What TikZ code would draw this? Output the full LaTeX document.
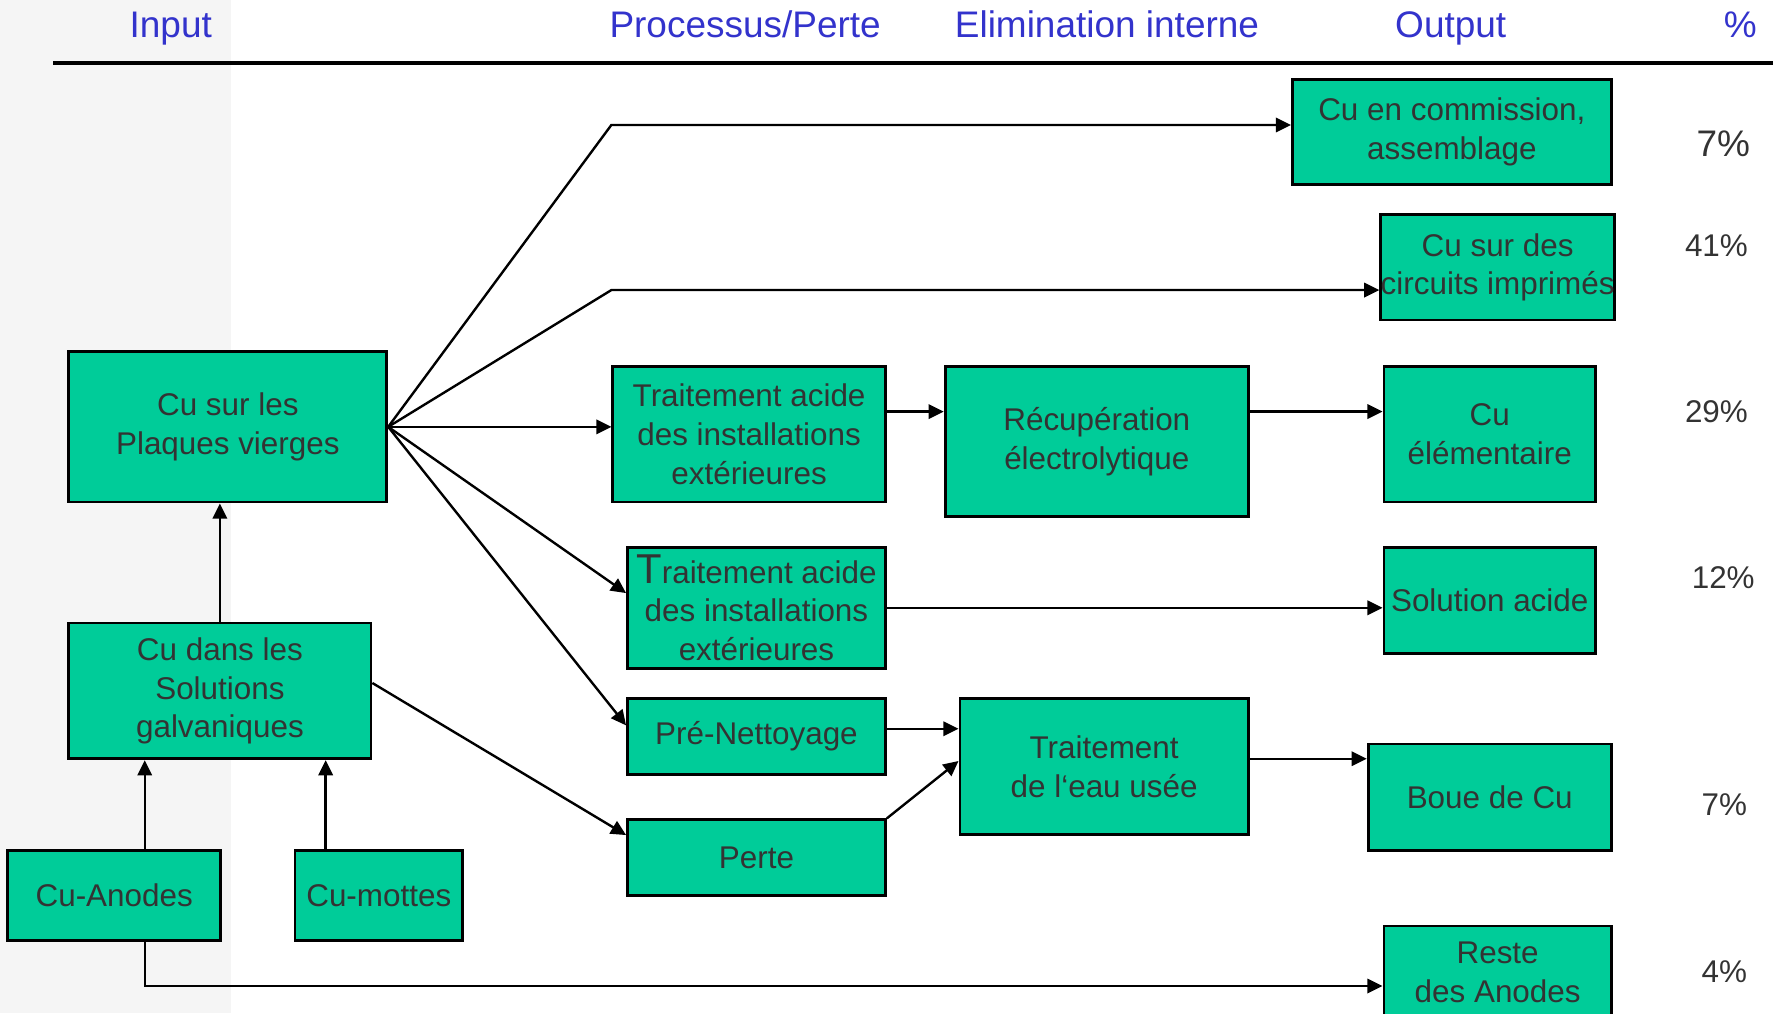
\documentclass[tikz,border=0pt]{standalone}
\usepackage{fontspec}
\setmainfont{Liberation Sans}
\usetikzlibrary{calc}
\usetikzlibrary{arrows.meta}

\definecolor{boxgreen}{HTML}{00CC99}
\definecolor{boxtext}{HTML}{333333}
\definecolor{headblue}{HTML}{3333CC}
\definecolor{leftgray}{HTML}{F5F5F5}

\tikzset{
  flowbox/.style={draw=black, line width=0.7pt, fill=boxgreen, text=boxtext,
    align=center, inner sep=0pt, font=\fontsize{7.9}{9.7}\selectfont},
  flowarrow/.style={-{Triangle[length=3.8pt,width=3.6pt]}, line width=0.6pt},
  colhead/.style={text=headblue, anchor=base, font=\fontsize{9.3}{11}\selectfont},
  share/.style={text=boxtext, font=\fontsize{7.9}{9.7}\selectfont}
}

\begin{document}
\begin{tikzpicture}[x=0.01cm, y=-0.01cm]
            \useasboundingbox (0,0) rectangle (1568,896);
            % Input column background
            \fill[leftgray] (0,0) rectangle (204,896);

            % Column heads
            \node[colhead] (hinput) at (151,33) {Input};
            \node[colhead] (hproc) at (659,33) {Processus/Perte};
            \node[colhead] (helim) at (979,33) {Elimination interne};
            \node[colhead] (hout) at (1283,33) {Output};
            \node[colhead] (hpct) at (1539,33) {\%};
            \draw[line width=1pt] (47,56) -- (1568,56);

            % Input
            \node[flowbox, minimum width=2.81cm, minimum height=1.33cm] (plaques) at (201.5,377.5) {Cu sur les\\Plaques vierges};
            \node[flowbox, minimum width=2.67cm, minimum height=1.20cm] (galv) at (194.5,611) {Cu dans les\\Solutions\\galvaniques};
            \node[flowbox, minimum width=1.88cm, minimum height=0.80cm] (anodes) at (101,792) {Cu-Anodes};
            \node[flowbox, minimum width=1.48cm, minimum height=0.80cm] (mottes) at (335,792) {Cu-mottes};

            % Processus/Perte
            \node[flowbox, minimum width=2.41cm, minimum height=1.20cm] (t1) at (662.5,384) {Traitement acide\\des installations\\extérieures};
            \node[flowbox, minimum width=2.28cm, minimum height=1.07cm] (t2) at (669,537.5) {{\fontsize{10.5}{9.7}\selectfont T}raitement acide\\des installations\\extérieures};
            \node[flowbox, minimum width=2.28cm, minimum height=0.67cm] (pn) at (669,651.5) {Pré-Nettoyage};
            \node[flowbox, minimum width=2.28cm, minimum height=0.67cm] (perte) at (669,758.5) {Perte};

            % Elimination interne
            \node[flowbox, minimum width=2.68cm, minimum height=1.33cm] (rec) at (970,390.5) {Récupération\\électrolytique};
            \node[flowbox, minimum width=2.55cm, minimum height=1.20cm] (te) at (976.5,678) {Traitement\\de l‘eau usée};

            % Output
            \node[flowbox, minimum width=2.82cm, minimum height=0.93cm] (cc) at (1284,116.5) {Cu en commission,\\assemblage};
            \node[flowbox, minimum width=2.01cm, minimum height=0.93cm] (ci) at (1324.5,236.5) {Cu sur des\\circuits imprimés};
            \node[flowbox, minimum width=1.87cm, minimum height=1.20cm] (ce) at (1317.5,384) {Cu\\élémentaire};
            \node[flowbox, minimum width=1.87cm, minimum height=0.94cm] (sa) at (1317.5,531) {Solution acide};
            \node[flowbox, minimum width=2.15cm, minimum height=0.94cm] (boue) at (1317.5,705) {Boue de Cu};
            \node[flowbox, minimum width=2.01cm, minimum height=0.82cm] (reste) at (1324.5,860) {Reste\\des Anodes};

            % Shares
            \node[share, font=\fontsize{9.3}{11}\selectfont] (p1) at (1524,127) {7\%};
            \node[share] (p2) at (1518,217) {41\%};
            \node[share] (p3) at (1518,364) {29\%};
            \node[share] (p4) at (1524,511) {12\%};
            \node[share] (p5) at (1525,712) {7\%};
            \node[share] (p6) at (1525,859) {4\%};

            % Helper points
            \coordinate (k1) at ($(cc.west)+(0,-6)$);
            \coordinate (k2) at ($(ci.west)+(0,20)$);
            \coordinate (k3) at ($(ce.west)+(0,-20)$);
            \coordinate (k4) at ($(pn.east)+(0,-7)$);
            \coordinate (k5) at ($(te.east)+(0,-7)$);
            \coordinate (ka) at ($(anodes.north)+(27,0)$);
            \coordinate (kb) at ($(anodes.south)+(27,0)$);
            \coordinate (km) at ($(mottes.north)+(-47,0)$);

            % From the plates
            \draw[flowarrow] (plaques.east) -- (k1 -| t1.west) -- (k1);
            \draw[flowarrow] (plaques.east) -- (k2 -| t1.west) -- (k2);
            \draw[flowarrow] (plaques.east) -- (plaques.east -| t1.west);
            \draw[flowarrow] (plaques.east) -- ($(t2.west)+(0,-13)$);
            \draw[flowarrow] (plaques.east) -- ($(pn.west)+(0,-10)$);

            % Processes
            \draw[flowarrow] (k3 -| t1.east) -- (k3 -| rec.west);
            \draw[flowarrow] (k3 -| rec.east) -- (k3);
            \draw[flowarrow] (t2.east) -- (t2.east -| sa.west);
            \draw[flowarrow] (k4) -- (k4 -| te.west);
            \draw[flowarrow] (perte.north east) -- ($(te.west)+(0,-5)$);
            \draw[flowarrow] (k5) -- (k5 -| boue.west);

            % Inputs
            \draw[flowarrow] ($(galv.east)+(0,-7)$) -- ($(perte.west)+(0,-20)$);
            \draw[flowarrow] (galv.north) -- (galv.north |- plaques.south);
            \draw[flowarrow] (ka) -- (ka |- galv.south);
            \draw[flowarrow] (km) -- (km |- galv.south);
            \draw[flowarrow] (kb) |- ($(reste.west)+(0,12)$);
\end{tikzpicture}
\end{document}
